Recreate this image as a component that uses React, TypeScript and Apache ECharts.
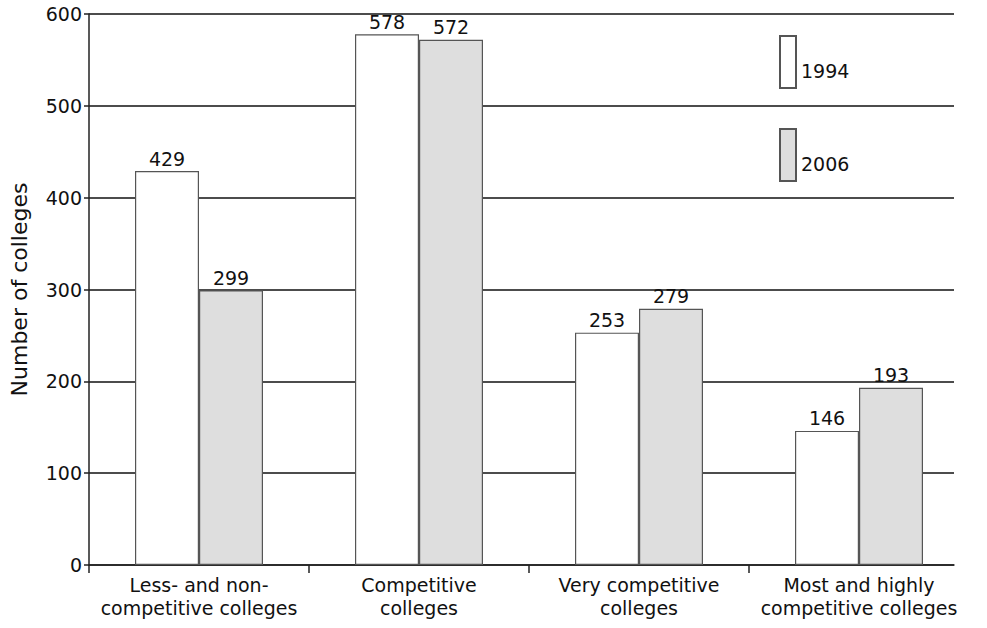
import React, { useEffect, useRef } from "react";
import * as echarts from "echarts";

const categories = [
  "Less- and non-\ncompetitive colleges",
  "Competitive\ncolleges",
  "Very competitive\ncolleges",
  "Most and highly\ncompetitive colleges",
];
const values1994 = [429, 578, 253, 146];
const values2006 = [299, 572, 279, 193];
const seriesNames = ["1994", "2006"];

const FONT = "DejaVu Sans";
const INK = "#111";

export default function App() {
  const ref = useRef<HTMLDivElement>(null);
  useEffect(() => {
    if (!ref.current) return;
    const chart = echarts.init(ref.current, undefined, { renderer: "svg" });
    const label = {
      show: true,
      position: "top",
      distance: 3,
      color: INK,
      fontSize: 19,
      fontFamily: FONT,
    };
    chart.setOption({
      animation: false,
      textStyle: { fontFamily: FONT },
      grid: [
        { left: 89, right: 18, top: 14, bottom: 63 },
        { left: 89, right: 33, top: 14, bottom: 63 },
        { left: 89, right: 18, top: 565, height: 8 },
      ],
      legend: {
        orient: "vertical",
        left: 779,
        top: 35,
        padding: 0,
        itemWidth: 16,
        itemHeight: 52,
        itemGap: 39,
        icon: "rect",
        formatter: (n: string) => "\n" + n,
        textStyle: { fontSize: 19, lineHeight: 18, color: INK, fontFamily: FONT },
        data: seriesNames,
        selectedMode: false,
      },
      xAxis: [
        {
          type: "category",
          gridIndex: 0,
          data: categories,
          axisLine: { show: false },
          axisTick: { show: false },
          axisLabel: {
            color: INK,
            fontSize: 19,
            fontFamily: FONT,
            margin: 8,
            lineHeight: 23,
            interval: 0,
          },
        },
        {
          type: "value",
          gridIndex: 1,
          min: 0,
          max: 1,
          axisLine: { show: true, onZero: false, lineStyle: { color: "#222", width: 1.5 } },
          axisTick: { show: false },
          axisLabel: { show: false },
          splitLine: { show: false },
        },
        {
          type: "category",
          gridIndex: 2,
          data: categories,
          axisLine: { show: false },
          axisTick: { show: false },
          axisLabel: { show: false },
          splitLine: {
            show: true,
            interval: 0,
            showMinLine: true,
            showMaxLine: false,
            lineStyle: { color: "#222", width: 1.5 },
          },
        },
      ],
      yAxis: [
        {
          type: "value",
          gridIndex: 0,
          min: 0,
          max: 600,
          interval: 100,
          show: false,
        },
        {
          type: "value",
          gridIndex: 1,
          min: 0,
          max: 600,
          interval: 100,
          name: "Number of colleges",
          nameLocation: "middle",
          nameGap: 59,
          nameTextStyle: { fontSize: 22, color: INK, fontFamily: FONT },
          axisLine: { show: true, lineStyle: { color: "#222", width: 1.5 } },
          axisTick: { show: true, length: 5, lineStyle: { color: "#222", width: 1.5 } },
          axisLabel: { color: INK, fontSize: 19, fontFamily: FONT, margin: 7 },
          splitLine: { show: true, lineStyle: { color: INK, width: 1.5 } },
        },
        {
          type: "value",
          gridIndex: 2,
          min: 0,
          max: 1,
          show: false,
        },
      ],
      series: [
        {
          name: seriesNames[0],
          type: "bar",
          xAxisIndex: 0,
          yAxisIndex: 0,
          data: values1994,
          barWidth: 64,
          barGap: "0%",
          itemStyle: { color: "#ffffff", borderColor: "#555", borderWidth: 1.2 },
          label,
        },
        {
          name: seriesNames[1],
          type: "bar",
          xAxisIndex: 0,
          yAxisIndex: 0,
          data: values2006,
          barWidth: 64,
          barGap: "0%",
          itemStyle: { color: "#dedede", borderColor: "#555", borderWidth: 1.2 },
          label,
        },
      ],
    });
    return () => chart.dispose();
  }, []);
  return <div ref={ref} style={{ width: 987, height: 628, position: "absolute", left: 0, top: 0 }} />;
}
